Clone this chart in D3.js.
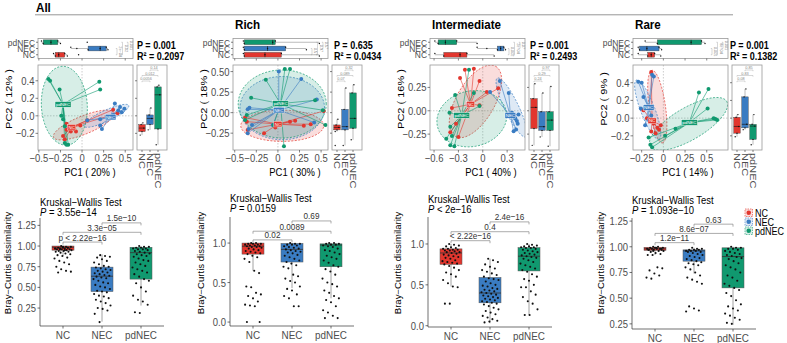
<!DOCTYPE html>
<html><head><meta charset="utf-8">
<script src="https://cdn.jsdelivr.net/npm/d3@7"></script>
<style>body{margin:0;background:#fff} svg{display:block} text{font-family:"Liberation Sans",Arial,sans-serif}</style>
</head><body><svg id="c" width="787" height="343"></svg>
<script>
// ---------------- DATA ----------------
const groups = ["NC","NEC","pdNEC"];
const groupColors = ["#E2362E","#3A7CC2","#10996F"];
const headerTitle = "All";
const subsetTitles = ["", "Rich", "Intermediate", "Rare"];
const permP = ["0.001","0.635","0.001","0.001"];
const permR2 = ["0.2097","0.0434","0.2493","0.1382"];
const pc1Pct = ["20%","30%","40%","14%"];
const pc2Pct = ["12%","18%","16%","9%"];

const pc1Domain = [[-0.51,0.59],[-0.52,0.58],[-0.65,0.52],[-0.35,0.745]];
const pc2Domain = [[-0.39,0.58],[-0.455,0.58],[-0.42,0.49],[-0.36,0.60]];
const pc1Ticks = [[-0.5,-0.25,0,0.25,0.5],[-0.5,-0.25,0,0.25,0.5],[-0.6,-0.3,0,0.3],[-0.25,0,0.25,0.5]];
const pc1TickLabels = [["−0.5","−0.25","0","0.25","0.5"],["−0.5","−0.25","0","0.25","0.5"],["−0.6","−0.3","0","0.3"],["−0.25","0","0.25","0.5"]];
const pc2Ticks = [[-0.2,0,0.2,0.4],[-0.25,0,0.25,0.5],[-0.25,0,0.25],[-0.2,0,0.2,0.4]];
const pc2TickLabels = [["−0.2","0.0","0.2","0.4"],["−0.25","0.00","0.25","0.50"],["−0.25","0.00","0.25"],["−0.2","0.0","0.2","0.4"]];

// PCoA sample scores [PC1, PC2] per panel, per group (NC, NEC, pdNEC)
const pcaPoints = [
 [
  [[0.36,0.07],[0.41,0.03],[0.06,-0.05],[-0.18,-0.09],[-0.15,-0.13],[-0.09,-0.15],[-0.13,-0.18],[-0.07,-0.18],[-0.18,-0.16],[-0.22,-0.23],[-0.20,-0.27],[-0.02,-0.11]],
  [[0.38,0.14],[0.44,0.10],[0.49,0.08],[0.46,0.04],[0.42,0.06],[0.21,-0.04],[0.21,-0.11],[0.23,-0.15],[0.06,-0.05],[0.36,0.01]],
  [[-0.39,0.42],[-0.37,0.40],[-0.26,0.30],[0.20,0.39],[0.21,0.30],[-0.24,0.0],[-0.22,-0.04],[-0.20,-0.12],[-0.20,-0.31],[-0.18,-0.33],[-0.16,-0.33]]
 ],
 [
  [[0.53,0.02],[0.38,-0.14],[0.20,-0.10],[0.14,-0.11],[-0.38,-0.06],[-0.36,-0.11],[-0.35,-0.21],[-0.16,-0.25],[-0.03,-0.18],[0.30,-0.16]],
  [[0.01,0.50],[0.27,0.41],[0.45,0.16],[-0.35,0.04],[-0.34,-0.20],[-0.35,-0.25],[-0.30,-0.15],[0.42,-0.12],[-0.06,-0.15],[-0.33,0.06]],
  [[0.08,0.53],[0.14,0.53],[-0.14,0.40],[-0.31,0.18],[0.43,0.15],[0.55,-0.15],[0.07,-0.41],[-0.36,-0.03],[-0.05,-0.15],[-0.38,-0.09],[0.52,0.03]]
 ],
 [
  [[-0.22,0.44],[-0.11,0.45],[-0.04,0.32],[-0.28,0.35],[-0.38,0.03],[-0.33,-0.14],[-0.40,-0.23],[-0.30,-0.28],[0.19,0.24],[-0.04,0.06],[0.05,0.20]],
  [[0.21,0.32],[0.09,0.20],[0.32,0.19],[0.40,-0.08],[0.43,-0.14],[0.41,-0.20],[0.38,-0.22],[0.44,-0.04],[0.36,-0.02],[0.42,-0.11]],
  [[-0.17,0.44],[-0.34,0.17],[-0.41,-0.02],[-0.40,-0.17],[-0.38,-0.27],[-0.40,-0.37],[-0.35,-0.38],[-0.11,0.19],[-0.04,0.05],[-0.30,-0.05],[-0.45,-0.30]]
 ],
 [
  [[-0.14,0.52],[-0.23,0.09],[-0.19,0.0],[-0.11,-0.06],[-0.07,-0.11],[-0.03,-0.08],[-0.09,-0.17],[-0.14,-0.15],[-0.05,-0.13]],
  [[-0.29,0.41],[-0.25,0.40],[-0.13,0.49],[-0.11,0.47],[-0.23,0.24],[-0.26,0.11],[-0.17,-0.02],[-0.21,-0.08],[-0.14,0.03]],
  [[0.41,0.29],[0.52,0.33],[0.51,0.11],[0.58,0.0],[0.60,-0.01],[0.62,-0.02],[0.14,-0.12],[-0.17,-0.22],[-0.15,-0.30],[-0.13,-0.33],[0.02,-0.20]]
 ]
];
const pcaCentroids = [
 [[-0.12,-0.13],[0.33,-0.015],[-0.22,0.13]],
 [[0.0,-0.14],[0.01,0.03],[0.03,0.11]],
 [[-0.15,0.07],[0.34,-0.05],[-0.26,-0.05]],
 [[-0.13,-0.03],[-0.17,0.12],[0.30,-0.05]]
];
// ellipse: centre (cx,cy) and two conjugate semi-diameters (ux,uy),(vx,vy) in PC units
const pcaEllipses = [
 [[0.02,-0.105,0.35,0.14,0.04,-0.096],[0.28,0.0,0.26,0.118,0.027,-0.057],[-0.205,0.115,0.265,0.02,-0.03,0.45]],
 [[0.05,-0.16,0.48,0,0,0.19],[0.05,0.055,0.49,0,0,0.385],[0.05,0.105,0.51,0,0,0.415]],
 [[-0.09,0.10,0.25,0.375,0.204,-0.102],[0.355,0.035,0.175,-0.315,0.078,0.032],[-0.135,-0.085,0.43,0.03,0,0.30]],
 [[-0.07,0.13,0.06,-0.41,0.093,0.012],[-0.18,0.095,0.13,-0.335,0.077,0.027],[0.29,-0.065,0.44,0.255,0.098,-0.154]]
];
// marginal boxplots [min, q1, median, q3, max]
const topBox = [
 [[-0.33,-0.31,-0.27,-0.20,-0.17],[-0.13,0.07,0.21,0.28,0.30],[-0.47,-0.45,-0.36,-0.28,-0.25]],
 [[-0.40,-0.39,-0.15,0.04,0.48],[-0.40,-0.39,-0.12,0.09,0.33],[-0.40,-0.39,-0.06,-0.03,0.48]],
 [[-0.59,-0.48,-0.28,-0.195,0.14],[-0.07,0.18,0.22,0.26,0.28],[-0.59,-0.55,-0.46,-0.32,-0.07]],
 [[-0.29,-0.18,-0.14,-0.10,-0.03],[-0.29,-0.275,-0.19,-0.05,-0.02],[-0.21,-0.07,0.32,0.44,0.48]]
];
const topOutliers = [[[-0.04],[-0.06],[0.06]],[[],[],[]],[[],[0.05],[]],[[],[],[]]];
const rightBox = [
 [[-0.22,-0.18,-0.14,-0.10,-0.08],[-0.16,-0.10,-0.03,0.01,0.09],[-0.33,-0.15,0.24,0.33,0.35]],
 [[-0.23,-0.21,-0.18,-0.15,-0.08],[-0.40,-0.21,-0.17,0.04,0.30],[-0.33,-0.19,-0.07,0.24,0.34]],
 [[-0.37,-0.19,0.036,0.13,0.29],[-0.28,-0.21,-0.17,-0.01,0.19],[-0.38,-0.21,-0.10,-0.01,0.26]],
 [[-0.21,-0.17,-0.094,0.01,0.04],[-0.13,-0.11,-0.07,0.24,0.33],[-0.30,-0.24,-0.09,-0.07,0.04]]
];
const rightOutliers = [[[],[],[]],[[-0.40],[],[]],[[],[],[]],[[],[],[]]];
// significance labels of marginal plots: [NC–NEC, NC–pdNEC, NEC–pdNEC]
const rightSig = [["0.0056","0.012","0.14"],["0.07","0.089","0.32"],["0.24","0.29","0.97"],["0.08","0.83","0.85"]];
const topSig = [["2e−04","0.02","0.001"],["0.57","0.97","0.57"],["0.002","2e−04","0.07"],["0.001","8e−04","0.001"]];

// Bray–Curtis dissimilarity boxplots
const kwP = ["P = 3.55e−14","P = 0.0159","P < 2e−16","P = 1.093e−10"];
const bcDomain = [[0.033,1.339],[-0.05,1.33],[-0.016,1.33],[0.20,1.28]];
const bcTicks = [[0.25,0.5,0.75,1.0,1.25],[0,0.5,1.0],[0,0.5,1.0],[0.25,0.5,0.75,1.0,1.25]];
const bcTickLabels = [["0.25","0.50","0.75","1.00","1.25"],["0.0","0.5","1.0"],["0.0","0.5","1.0"],["0.25","0.50","0.75","1.00","1.25"]];
const bcBox = [
 [[0.88,0.95,0.985,1.0,1.0],[0.085,0.45,0.635,0.745,0.90],[0.28,0.60,0.92,0.985,1.0]],
 [[0.65,0.86,0.96,1.0,1.0],[0.43,0.76,0.92,0.995,1.0],[0.30,0.70,0.975,0.99,1.0]],
 [[0.48,0.75,0.89,0.94,1.0],[0.03,0.28,0.40,0.59,0.82],[0.13,0.67,0.85,0.955,1.0]],
 [[0.92,0.965,0.98,0.995,1.0],[0.74,0.86,0.96,0.97,0.99],[0.24,0.60,0.905,0.99,1.0]]
];
const bcPoints = [
 [
  [1.0,0.99,0.99,0.98,0.98,0.98,0.97,0.97,0.97,0.96,0.96,0.96,0.95,0.95,0.94,0.94,0.93,0.93,0.92,0.91,0.90,0.89,0.88,0.86,0.85,0.82,0.80,0.78,0.75,0.72,0.70,0.69,0.68,0.99,0.98,0.97,0.96,0.95],
  [0.89,0.88,0.87,0.86,0.84,0.82,0.80,0.78,0.76,0.75,0.74,0.73,0.72,0.71,0.70,0.69,0.68,0.67,0.66,0.65,0.64,0.63,0.62,0.61,0.60,0.58,0.56,0.55,0.53,0.51,0.50,0.48,0.46,0.45,0.44,0.42,0.40,0.39,0.37,0.35,0.33,0.31,0.28,0.25,0.24,0.22,0.18,0.08],
  [1.0,0.99,0.99,0.98,0.98,0.97,0.97,0.96,0.96,0.95,0.94,0.93,0.92,0.91,0.90,0.89,0.88,0.87,0.85,0.83,0.82,0.80,0.78,0.76,0.74,0.72,0.70,0.68,0.66,0.63,0.60,0.58,0.55,0.50,0.45,0.40,0.35,0.33,0.29,0.20,0.19]
 ],
 [
  [1.0,1.0,0.99,0.99,0.99,0.98,0.98,0.97,0.97,0.96,0.96,0.95,0.95,0.94,0.93,0.92,0.91,0.90,0.89,0.88,0.87,0.86,0.84,0.82,0.80,0.76,0.65,0.62,0.45,0.44,0.37,0.35,0.33,0.30,0.26,0.22,0.21,0.20,0.0,0.0],
  [1.0,0.99,0.99,0.98,0.98,0.97,0.96,0.95,0.94,0.93,0.92,0.91,0.90,0.89,0.88,0.87,0.85,0.84,0.82,0.80,0.78,0.76,0.74,0.72,0.70,0.68,0.60,0.58,0.55,0.52,0.50,0.45,0.42,0.40,0.35,0.33,0.30,0.20,0.20],
  [1.0,1.0,0.99,0.99,0.98,0.98,0.97,0.96,0.95,0.93,0.91,0.90,0.88,0.86,0.84,0.82,0.80,0.78,0.75,0.72,0.70,0.67,0.64,0.60,0.55,0.50,0.48,0.45,0.40,0.37,0.33,0.30,0.28,0.25,0.20,0.15,0.12,0.08,0.05,0.05]
 ],
 [
  [1.0,0.99,0.98,0.97,0.96,0.95,0.94,0.94,0.93,0.93,0.92,0.92,0.91,0.90,0.90,0.89,0.88,0.87,0.86,0.85,0.84,0.83,0.82,0.80,0.79,0.78,0.77,0.76,0.75,0.73,0.71,0.68,0.65,0.63,0.60,0.56,0.52,0.48,0.47,0.27,0.27],
  [0.82,0.80,0.78,0.75,0.72,0.70,0.68,0.66,0.64,0.62,0.60,0.58,0.57,0.56,0.54,0.52,0.50,0.49,0.48,0.46,0.45,0.44,0.43,0.42,0.41,0.40,0.39,0.38,0.37,0.36,0.35,0.34,0.33,0.32,0.31,0.30,0.29,0.28,0.27,0.26,0.24,0.22,0.20,0.18,0.16,0.14,0.12,0.10,0.08,0.06,0.04,0.05],
  [1.0,0.99,0.98,0.97,0.97,0.96,0.96,0.95,0.95,0.94,0.93,0.92,0.91,0.90,0.89,0.88,0.87,0.86,0.85,0.84,0.83,0.82,0.80,0.78,0.76,0.74,0.72,0.70,0.68,0.66,0.63,0.60,0.57,0.55,0.50,0.47,0.47,0.42,0.38,0.35,0.30,0.27,0.20,0.13,0.13]
 ],
 [
  [1.0,1.0,0.99,0.99,0.99,0.98,0.98,0.98,0.98,0.97,0.97,0.97,0.96,0.96,0.95,0.94,0.93,0.92,0.92,0.80,0.79,0.77,0.74,0.72,0.70,0.69,0.99,0.98,0.97,0.96],
  [0.99,0.98,0.98,0.97,0.97,0.97,0.96,0.96,0.96,0.95,0.95,0.94,0.93,0.92,0.91,0.90,0.89,0.88,0.87,0.86,0.85,0.84,0.83,0.82,0.80,0.78,0.75,0.72,0.70,0.68,0.66,0.64,0.42,0.40,0.38,0.37],
  [1.0,0.99,0.99,0.98,0.98,0.97,0.96,0.95,0.94,0.93,0.92,0.91,0.90,0.89,0.88,0.86,0.84,0.82,0.80,0.78,0.75,0.72,0.70,0.67,0.64,0.62,0.60,0.58,0.55,0.52,0.48,0.44,0.42,0.40,0.38,0.35,0.33,0.31,0.29,0.26,0.25]
 ]
];
const bcPairs = [[0,1],[0,2],[1,2]];
const bcPairLabels = [["p < 2.22e−16","3.3e−05","1.5e−10"],["0.02","0.0089","0.69"],["< 2.22e−16","0.4","2.4e−16"],["1.2e−11","8.6e−07","0.63"]];
const bcPairLevels = [[1.048,1.166,1.28],[1.04,1.15,1.28],[1.04,1.15,1.27],[1.04,1.13,1.22]];

// ---------------- LAYOUT ----------------
const svg = d3.select("#c");
const AX = "#333", TXT = "#4d4d4d", SX = 0.86;
const pcaLeft = [38,233,430,633], pcaW = 95, pcaTop = 65, pcaBottom = 150;
const topMTop = 38.5, topMBottom = 58.5;
const statOff = [4,6,5,2];
const pc1LabX = [52,62,61,55];
const bAxisX = [40,230,428,632], bTop = [218,217,217,218], bBottom = [326,326,327,329];
const bYlabOff = [32,29,30,31];
const kwTitleY = [206,202,203,204];

// horizontal text, slightly condensed like the reference
function ht(g, x, y, s, size, o={}) {
  const t = g.append("text").attr("transform",`translate(${x},${y}) scale(${SX},1)`).attr("font-size",size)
    .attr("text-anchor",o.anchor||"start").attr("fill",o.fill||"#000");
  if (o.dy) t.attr("dy",o.dy);
  if (o.bold) t.attr("font-weight","bold");
  t.text(s); return t;
}
function vt(g, x, y, s, size, rot, o={}) {
  const t = g.append("text").attr("transform",`translate(${x},${y}) rotate(${rot}) scale(1,${SX})`).attr("font-size",size)
    .attr("text-anchor",o.anchor||"middle").attr("fill",o.fill||"#000").attr("dy",o.dy||"0.35em");
  t.text(s); return t;
}

ht(svg,36,12,headerTitle,13.5,{bold:true});
svg.append("line").attr("x1",35).attr("x2",733).attr("y1",14.8).attr("y2",14.8).attr("stroke","#8a8a8a").attr("stroke-width",0.9);

function drawPCA(p) {
  const L = pcaLeft[p], R = L + pcaW;
  const x = d3.scaleLinear().domain(pc1Domain[p]).range([L,R]);
  const y = d3.scaleLinear().domain(pc2Domain[p]).range([pcaBottom,pcaTop]);
  const g = svg.append("g");
  const cid = "clip"+p;
  svg.append("clipPath").attr("id",cid).append("rect").attr("x",L).attr("y",pcaTop).attr("width",pcaW).attr("height",pcaBottom-pcaTop);
  const inner = g.append("g").attr("clip-path",`url(#${cid})`);
  inner.append("line").attr("x1",x(0)).attr("x2",x(0)).attr("y1",pcaTop).attr("y2",pcaBottom).attr("stroke","#aaa").attr("stroke-width",0.6).attr("stroke-dasharray","1.5,1.5");
  inner.append("line").attr("x1",L).attr("x2",R).attr("y1",y(0)).attr("y2",y(0)).attr("stroke","#aaa").attr("stroke-width",0.6).attr("stroke-dasharray","1.5,1.5");
  groups.forEach((gn,gi)=>{
    const e = pcaEllipses[p][gi];
    const pts = d3.range(0,360,4).map(a=>{const t=a*Math.PI/180;return [x(e[0]+e[2]*Math.cos(t)+e[4]*Math.sin(t)), y(e[1]+e[3]*Math.cos(t)+e[5]*Math.sin(t))];});
    inner.append("path").attr("d",d3.line()(pts)+"Z").attr("fill",groupColors[gi]).attr("fill-opacity",0.17)
      .attr("stroke",groupColors[gi]).attr("stroke-width",0.7).attr("stroke-dasharray","2,1.5");
  });
  groups.forEach((gn,gi)=>{
    const c = pcaCentroids[p][gi];
    pcaPoints[p][gi].forEach(pt=>{
      inner.append("line").attr("x1",x(c[0])).attr("y1",y(c[1])).attr("x2",x(pt[0])).attr("y2",y(pt[1]))
        .attr("stroke",groupColors[gi]).attr("stroke-width",0.7).attr("stroke-opacity",0.85);
    });
  });
  groups.forEach((gn,gi)=>{
    pcaPoints[p][gi].forEach(pt=>{
      inner.append("circle").attr("cx",x(pt[0])).attr("cy",y(pt[1])).attr("r",2).attr("fill",groupColors[gi]);
    });
  });
  groups.forEach((gn,gi)=>{
    const c = pcaCentroids[p][gi];
    const w = gn.length*2.6+3;
    inner.append("rect").attr("x",x(c[0])-w/2).attr("y",y(c[1])-2.8).attr("width",w).attr("height",5.6)
      .attr("fill",groupColors[gi]).attr("stroke","#fff").attr("stroke-width",0.4);
    inner.append("text").attr("x",x(c[0])).attr("y",y(c[1])+1.5).attr("text-anchor","middle").attr("font-size",4.4).attr("fill","#fff").text(gn);
  });
  g.append("rect").attr("x",L).attr("y",pcaTop).attr("width",pcaW).attr("height",pcaBottom-pcaTop).attr("fill","none").attr("stroke","#9a9a9a").attr("stroke-width",0.8);
  pc1Ticks[p].forEach((t,i)=>{
    g.append("line").attr("x1",x(t)).attr("x2",x(t)).attr("y1",pcaBottom).attr("y2",pcaBottom+2.5).attr("stroke",AX).attr("stroke-width",0.6);
    ht(g,x(t),pcaBottom+12,pc1TickLabels[p][i],11,{anchor:"middle",fill:TXT});
  });
  pc2Ticks[p].forEach((t,i)=>{
    g.append("line").attr("x1",L-2.5).attr("x2",L).attr("y1",y(t)).attr("y2",y(t)).attr("stroke",AX).attr("stroke-width",0.6);
    ht(g,L-3.5,y(t),pc2TickLabels[p][i],11,{anchor:"end",fill:TXT,dy:"0.36em"});
  });
  ht(g,L+pc1LabX[p],176,`PC1 ( ${pc1Pct[p]} )`,11,{anchor:"middle"});
  vt(g,L-29,99,`PC2 ( ${pc2Pct[p]} )`,11,-90);

  // ---- top marginal boxplot (PC1)
  const ym = d3.scaleBand().domain(["pdNEC","NEC","NC"]).range([topMTop,topMBottom]).paddingInner(0.1).paddingOuter(0.15);
  g.append("rect").attr("x",L).attr("y",topMTop).attr("width",pcaW).attr("height",topMBottom-topMTop).attr("fill","none").attr("stroke","#9a9a9a").attr("stroke-width",0.8);
  groups.forEach((gn,gi)=>{
    const b = topBox[p][gi], yc = ym(gn)+ym.bandwidth()/2, h = ym.bandwidth()*0.85;
    g.append("line").attr("x1",x(b[0])).attr("x2",x(b[1])).attr("y1",yc).attr("y2",yc).attr("stroke","#777").attr("stroke-width",0.5);
    g.append("line").attr("x1",x(b[3])).attr("x2",x(b[4])).attr("y1",yc).attr("y2",yc).attr("stroke","#777").attr("stroke-width",0.5);
    g.append("rect").attr("x",x(b[1])).attr("y",yc-h/2).attr("width",x(b[3])-x(b[1])).attr("height",h).attr("fill",groupColors[gi]).attr("stroke","#444").attr("stroke-width",0.4);
    g.append("line").attr("x1",x(b[2])).attr("x2",x(b[2])).attr("y1",yc-h/2).attr("y2",yc+h/2).attr("stroke","#111").attr("stroke-width",0.6);
    b.concat(topOutliers[p][gi]).forEach((v,k)=>{
      g.append("circle").attr("cx",x(v)).attr("cy",yc+((k*5)%3-1)*1.2).attr("r",0.7).attr("fill","#111");
    });
  });
  groups.forEach(gn=>{
    g.append("line").attr("x1",L-2).attr("x2",L).attr("y1",ym(gn)+ym.bandwidth()/2).attr("y2",ym(gn)+ym.bandwidth()/2).attr("stroke",AX).attr("stroke-width",0.6);
    ht(g,L-3,ym(gn)+ym.bandwidth()/2,gn,9.8,{anchor:"end",fill:TXT,dy:"0.36em"});
  });
  pc1Ticks[p].forEach(t=>g.append("line").attr("x1",x(t)).attr("x2",x(t)).attr("y1",topMBottom).attr("y2",topMBottom+2).attr("stroke",AX).attr("stroke-width",0.6));
  const rowY = gn=>ym(gn)+ym.bandwidth()/2;
  bcPairs.forEach((pr,k)=>{
    const bx = R-16+k*5.5;
    const y1 = rowY(groups[pr[0]]), y2 = rowY(groups[pr[1]]);
    g.append("path").attr("d",`M${bx-1.2},${y1}H${bx}V${y2}H${bx-1.2}`).attr("fill","none").attr("stroke","#999").attr("stroke-width",0.4);
    g.append("text").attr("transform",`translate(${bx+2},${(y1+y2)/2}) rotate(90)`).attr("text-anchor","middle").attr("font-size",3.8).attr("fill","#888").text(topSig[p][k]);
  });

  // ---- right marginal boxplot (PC2)
  const RL = R + 4, RW = 30;
  const xm = d3.scalePoint().domain(groups).range([RL+5,RL+21]);
  g.append("rect").attr("x",RL).attr("y",pcaTop).attr("width",RW).attr("height",pcaBottom-pcaTop).attr("fill","none").attr("stroke","#9a9a9a").attr("stroke-width",0.8);
  groups.forEach((gn,gi)=>{
    const b = rightBox[p][gi], xc = xm(gn), w = 6.5;
    g.append("line").attr("x1",xc).attr("x2",xc).attr("y1",y(b[0])).attr("y2",y(b[4])).attr("stroke","#777").attr("stroke-width",0.5);
    g.append("rect").attr("x",xc-w/2).attr("y",y(b[3])).attr("width",w).attr("height",y(b[1])-y(b[3])).attr("fill",groupColors[gi]).attr("stroke","#444").attr("stroke-width",0.4);
    g.append("line").attr("x1",xc-w/2).attr("x2",xc+w/2).attr("y1",y(b[2])).attr("y2",y(b[2])).attr("stroke","#111").attr("stroke-width",0.6);
    b.concat(rightOutliers[p][gi]).forEach((v,k)=>{
      g.append("circle").attr("cx",xc+((k*7)%5-2)*0.9).attr("cy",y(v)).attr("r",0.7).attr("fill","#111");
    });
    g.append("line").attr("x1",xc).attr("x2",xc).attr("y1",pcaBottom).attr("y2",pcaBottom+2).attr("stroke",AX).attr("stroke-width",0.6);
    vt(g,xc,pcaBottom+3,gn,11,90,{anchor:"start",fill:TXT,dy:"0.36em"});
  });
  pc2Ticks[p].forEach(t=>g.append("line").attr("x1",RL-2).attr("x2",RL).attr("y1",y(t)).attr("y2",y(t)).attr("stroke",AX).attr("stroke-width",0.6));
  const lv = [pcaTop+16, pcaTop+10.5, pcaTop+5];
  bcPairs.forEach((pr,k)=>{
    const x1 = xm(groups[pr[0]]), x2 = xm(groups[pr[1]]);
    g.append("path").attr("d",`M${x1},${lv[k]+1.2}V${lv[k]}H${x2}V${lv[k]+1.2}`).attr("fill","none").attr("stroke","#999").attr("stroke-width",0.4);
    g.append("text").attr("x",(x1+x2)/2).attr("y",lv[k]-0.6).attr("text-anchor","middle").attr("font-size",3.8).attr("fill","#888").text(rightSig[p][k]);
  });

  ht(g,R+statOff[p],49,`P = ${permP[p]}`,10.5,{bold:true});
  ht(g,R+statOff[p],60,`R² = ${permR2[p]}`,10.5,{bold:true});
  if (subsetTitles[p]) ht(g,L+2,29,subsetTitles[p],13.5,{bold:true});
}

function drawBC(p) {
  const A = bAxisX[p];
  const x = d3.scalePoint().domain(groups).range([A+23,A+101]);
  const y = d3.scaleLinear().domain(bcDomain[p]).range([bBottom[p],bTop[p]]);
  const g = svg.append("g");
  groups.forEach((gn,gi)=>{
    const b = bcBox[p][gi], xc = x(gn), w = 22;
    g.append("line").attr("x1",xc).attr("x2",xc).attr("y1",y(b[0])).attr("y2",y(b[4])).attr("stroke","#8a8a8a").attr("stroke-width",0.8);
    g.append("rect").attr("x",xc-w/2).attr("y",y(b[3])).attr("width",w).attr("height",Math.max(0.5,y(b[1])-y(b[3]))).attr("fill",groupColors[gi]).attr("stroke","#555").attr("stroke-width",0.5);
    g.append("line").attr("x1",xc-w/2).attr("x2",xc+w/2).attr("y1",y(b[2])).attr("y2",y(b[2])).attr("stroke","#333").attr("stroke-width",0.8);
    bcPoints[p][gi].forEach((v,i)=>{
      const j = (((i*37+11)%29)/28-0.5)*17;
      g.append("circle").attr("cx",xc+j).attr("cy",y(v)).attr("r",1.05).attr("fill","#111");
    });
  });
  g.append("line").attr("x1",A).attr("x2",A).attr("y1",bTop[p]).attr("y2",bBottom[p]).attr("stroke",AX).attr("stroke-width",0.7);
  g.append("line").attr("x1",A).attr("x2",A+124).attr("y1",bBottom[p]).attr("y2",bBottom[p]).attr("stroke",AX).attr("stroke-width",0.7);
  bcTicks[p].forEach((t,i)=>{
    g.append("line").attr("x1",A-2.5).attr("x2",A).attr("y1",y(t)).attr("y2",y(t)).attr("stroke",AX).attr("stroke-width",0.7);
    ht(g,A-4,y(t),bcTickLabels[p][i],11,{anchor:"end",fill:TXT,dy:"0.36em"});
  });
  groups.forEach(gn=>{
    g.append("line").attr("x1",x(gn)).attr("x2",x(gn)).attr("y1",bBottom[p]).attr("y2",bBottom[p]+2.5).attr("stroke",AX).attr("stroke-width",0.7);
    ht(g,x(gn),bBottom[p]+12.5,gn,11.5,{anchor:"middle",fill:TXT});
  });
  vt(g,A-bYlabOff[p],263,"Bray−Curtis dissimilarity",9.6,-90);
  bcPairs.forEach((pr,k)=>{
    const x1 = x(groups[pr[0]]), x2 = x(groups[pr[1]]), yy = y(bcPairLevels[p][k]);
    g.append("path").attr("d",`M${x1},${yy+2.5}V${yy}H${x2}V${yy+2.5}`).attr("fill","none").attr("stroke","#888").attr("stroke-width",0.7);
    ht(g,(x1+x2)/2,yy-1.5,bcPairLabels[p][k],9.5,{anchor:"middle",fill:"#333"});
  });
  ht(g,A,kwTitleY[p],"Kruskal−Wallis Test",11);
  const t = ht(g,A,kwTitleY[p]+10,"",11);
  t.append("tspan").attr("font-style","italic").text(kwP[p].slice(0,1));
  t.append("tspan").text(kwP[p].slice(1));
}

for (let p=0;p<4;p++){ drawPCA(p); drawBC(p); }

const lg = svg.append("g");
groups.forEach((gn,gi)=>{
  const yy = 209 + gi*9;
  lg.append("rect").attr("x",745).attr("y",yy).attr("width",7.5).attr("height",7.5).attr("fill",groupColors[gi]).attr("fill-opacity",0.17)
    .attr("stroke",groupColors[gi]).attr("stroke-width",0.6).attr("stroke-dasharray","1.5,1");
  lg.append("circle").attr("cx",748.75).attr("cy",yy+3.75).attr("r",2.3).attr("fill",groupColors[gi]);
  ht(lg,755,yy+3.75,gn,10.5,{dy:"0.36em"});
});
</script></body></html>
